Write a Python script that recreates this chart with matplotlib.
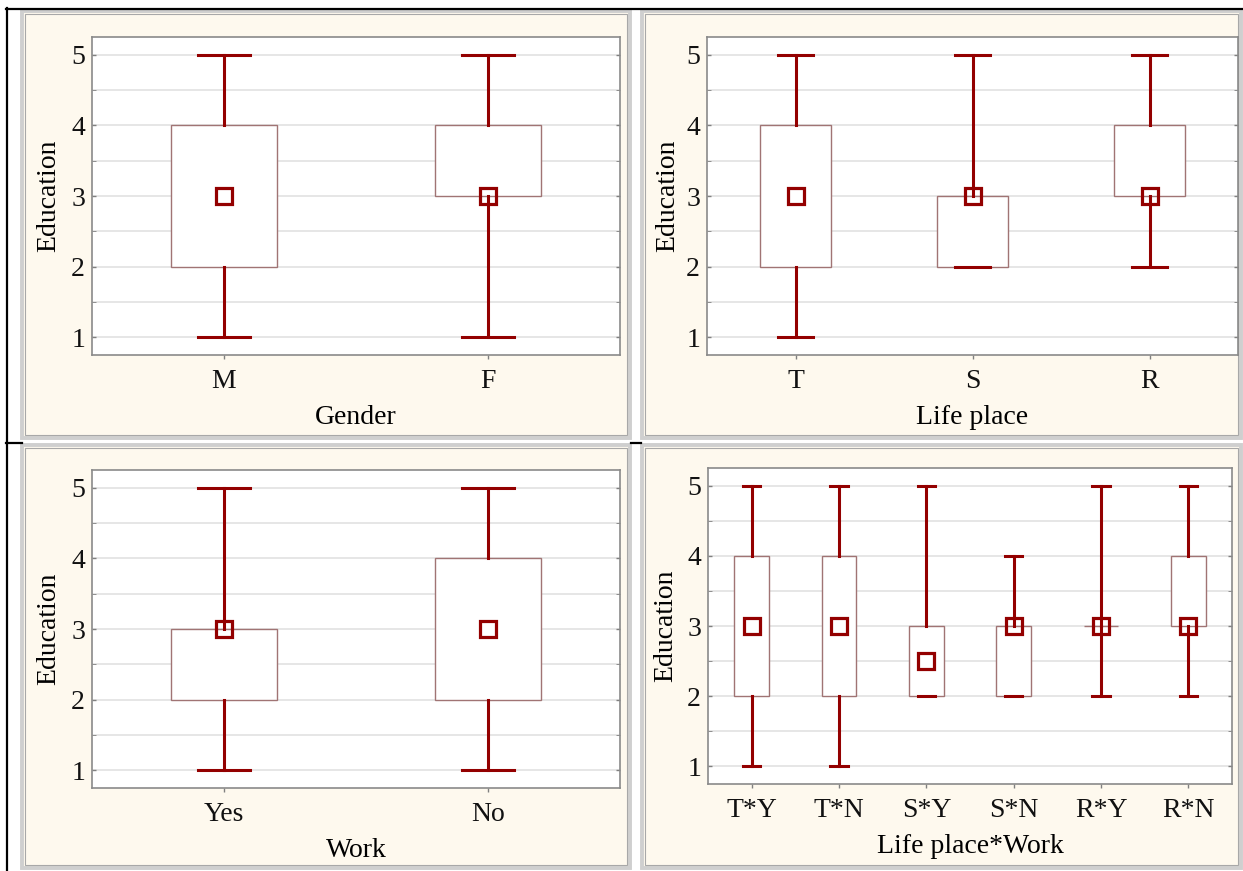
import numpy as np
import matplotlib
matplotlib.use("Agg")
import matplotlib.pyplot as plt
from matplotlib.patches import Rectangle
from matplotlib.lines import Line2D

W, H = 1243, 871
plt.rcParams["font.family"] = ["Liberation Serif", "DejaVu Serif"]

# valori (mediana, q1, q3, min, max)
gender = ["M", "F"]
gender_med = [3, 3]
gender_q1 = [2, 3]
gender_q3 = [4, 4]
gender_min = [1, 1]
gender_max = [5, 5]

place = ["T", "S", "R"]
place_med = [3, 3, 3]
place_q1 = [2, 2, 3]
place_q3 = [4, 3, 4]
place_min = [1, 2, 2]
place_max = [5, 5, 5]

work = ["Yes", "No"]
work_med = [3, 3]
work_q1 = [2, 2]
work_q3 = [3, 4]
work_min = [1, 1]
work_max = [5, 5]

pw = ["T*Y", "T*N", "S*Y", "S*N", "R*Y", "R*N"]
pw_med = [3, 3, 2.5, 3, 3, 3]
pw_q1 = [2, 2, 2, 2, 3, 3]
pw_q3 = [4, 4, 3, 3, 3, 4]
pw_min = [1, 1, 2, 2, 2, 2]
pw_max = [5, 5, 5, 4, 5, 5]

RED = "#930000"
BOXC = "#a07474"
CREAM = "#fef9ee"
FS = 20


def fx(x):
    return x / W


def fy(y):
    return 1 - y / H


def cornice(fig, x0, y0, x1, y1):
    fig.add_artist(Rectangle((fx(x0), fy(y1)), (x1 - x0) / W, (y1 - y0) / H, transform=fig.transFigure,
                             facecolor=CREAM, edgecolor="#cfcfcf", lw=2.8, zorder=0))
    fig.add_artist(Rectangle((fx(x0 + 3), fy(y1 - 3)), (x1 - x0 - 6) / W, (y1 - y0 - 6) / H,
                             transform=fig.transFigure, facecolor="none", edgecolor="#a8a8a8",
                             lw=0.8, zorder=0))


def pannello(fig, box, cats, med, q1, q3, lo, hi, xlabel, ylab_x):
    l, t, r, b = box
    ax = fig.add_axes([fx(l), fy(b), (r - l) / W, (b - t) / H])
    stats = [dict(med=m, q1=a, q3=c, whislo=d, whishi=e, label=k, fliers=[])
             for k, m, a, c, d, e in zip(cats, med, q1, q3, lo, hi)]
    pos = np.arange(1, len(cats) + 1)
    ax.bxp(stats, positions=pos, widths=0.4, capwidths=0.2, patch_artist=True, showfliers=False,
           boxprops=dict(facecolor="white", edgecolor=BOXC, lw=1.0),
           whiskerprops=dict(color=RED, lw=2.2), capprops=dict(color=RED, lw=2.2),
           medianprops=dict(lw=0), zorder=3)
    ax.plot(pos, med, ls="none", marker="s", ms=11.5, mfc="none", mec=RED, mew=2.3, zorder=5)
    ax.set_xlim(0.5, len(cats) + 0.5)
    ax.set_ylim(0.75, 5.25)
    ax.set_yticks([1, 2, 3, 4, 5])
    ax.set_yticks(np.arange(1, 5.01, 0.5), minor=True)
    ax.grid(True, which="both", axis="y", color="#e4e4e4", lw=1.3, zorder=0)
    ax.set_axisbelow(True)
    ax.tick_params(axis="both", labelsize=FS, colors="#808080", labelcolor="#111111", length=3, width=1)
    ax.tick_params(axis="x", pad=7)
    ax.tick_params(axis="y", pad=5, direction="in", right=True)
    ax.tick_params(axis="y", which="minor", direction="in", right=True, length=3, colors="#808080")
    for s in ax.spines.values():
        s.set_color("#8a8a8a"); s.set_linewidth(1.2)
    ax.set_xlabel(xlabel, fontsize=FS, labelpad=8)
    ax.set_ylabel("Education", fontsize=FS)
    ax.yaxis.set_label_coords((ylab_x - l) / (r - l), 0.5)
    return ax


fig = plt.figure(figsize=(W / 100, H / 100), dpi=100)
fig.patch.set_facecolor("white")

cornice(fig, 22, 11, 630, 438)
cornice(fig, 642, 11, 1241, 438)
cornice(fig, 22, 445, 630, 868)
cornice(fig, 642, 445, 1241, 868)

# linee nere della tabella
for xs, ys in [([7, 7], [8, 871]), ([6, 1243], [9, 9]), ([6, 22], [443, 443]), ([631, 641], [443, 443])]:
    fig.add_artist(Line2D([fx(v) for v in xs], [fy(v) for v in ys], color="black", lw=1.6,
                          transform=fig.transFigure))

pannello(fig, (92, 37, 620, 355), gender, gender_med, gender_q1, gender_q3, gender_min, gender_max,
         "Gender", 61)
pannello(fig, (707, 37, 1238, 355), place, place_med, place_q1, place_q3, place_min, place_max,
         "Life place", 680)
pannello(fig, (92, 470, 620, 788), work, work_med, work_q1, work_q3, work_min, work_max,
         "Work", 61)
pannello(fig, (708, 468, 1232, 784), pw, pw_med, pw_q1, pw_q3, pw_min, pw_max,
         "Life place*Work", 678)

fig.savefig("out.png", dpi=100)
